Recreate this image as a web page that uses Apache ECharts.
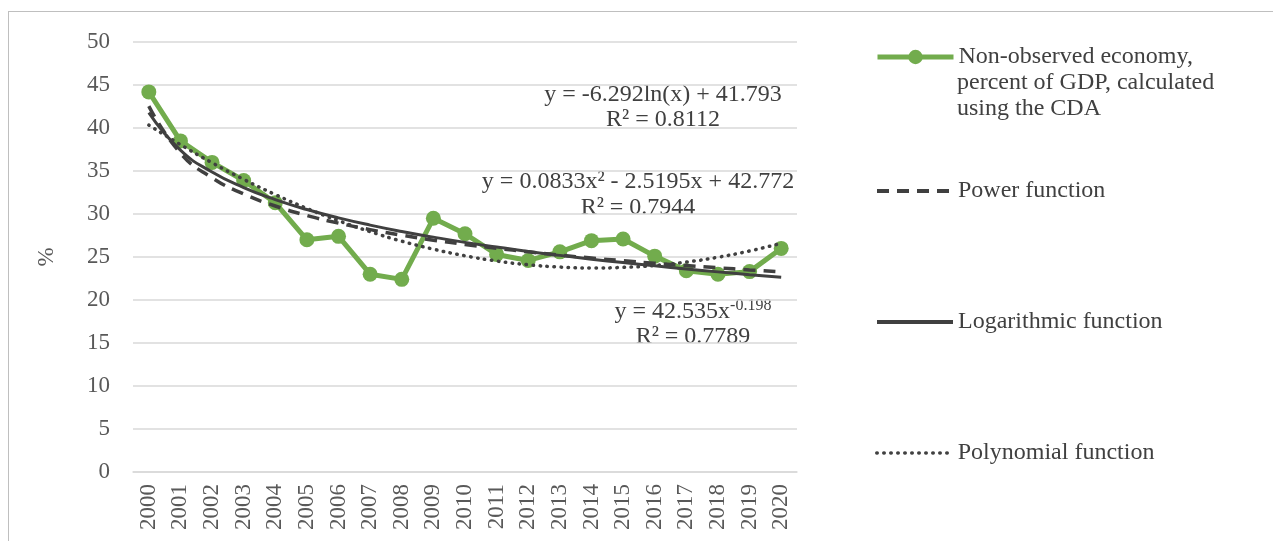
<!DOCTYPE html>
<html>
<head>
<meta charset="utf-8">
<script src="https://cdn.jsdelivr.net/npm/echarts@6/dist/echarts.min.js"></script>
<style>
html,body{margin:0;padding:0;background:#fff;}
#frame{position:absolute;left:8px;top:11px;width:1265px;height:530px;border-top:1px solid #bfbfbf;border-left:1px solid #bfbfbf;}
#chart{position:absolute;left:0;top:0;width:1273px;height:541px;}
</style>
</head>
<body>
<div id="frame"></div>
<div id="chart"></div>
<script>
const years = ['2000','2001','2002','2003','2004','2005','2006','2007','2008','2009','2010','2011','2012','2013','2014','2015','2016','2017','2018','2019','2020'];
const neValues = [44.2,38.5,36.0,33.9,31.3,27.0,27.4,23.0,22.4,29.5,27.7,25.3,24.6,25.6,26.9,27.1,25.1,23.4,23.0,23.3,26.0];
const powerTrend = [42.54,37.08,34.22,32.33,30.93,29.83,28.94,28.18,27.53,26.96,26.46,26.01,25.60,25.22,24.88,24.57,24.27,24.00,23.75,23.50,23.28];
const logTrend = [41.79,37.43,34.88,33.07,31.67,30.52,29.55,28.71,27.97,27.31,26.70,26.16,25.65,25.19,24.75,24.35,23.97,23.61,23.27,22.94,22.64];
const polyTrend = [40.34,38.07,35.96,34.03,32.26,30.65,29.22,27.95,26.84,25.91,25.14,24.53,24.10,23.83,23.72,23.79,24.01,24.41,24.97,25.70,26.60];
const yTicks = [0,5,10,15,20,25,30,35,40,45,50];
const neLegendLines = ['Non-observed economy,', 'percent of GDP, calculated', 'using the CDA'];

const serif = '"Liberation Serif","Times New Roman",serif';
const green = '#72ac4d';
const dark = '#404040';
const nameNE = neLegendLines.join(' ');

const chart = echarts.init(document.getElementById('chart'));
function legendAt(name, top, lineW, hideSymbol) {
  const lg = {
    data: [name], left: 875, top: top, orient: 'vertical', padding: 0,
    itemWidth: 76, itemHeight: 18, itemGap: 0,
    selectedMode: false,
    lineStyle: {width: lineW},
    textStyle: {fontFamily: serif, fontSize: 24, color: dark, lineHeight: 26}
  };
  if (hideSymbol) lg.itemStyle = {opacity: 0};
  if (name === nameNE) lg.formatter = function () { return neLegendLines[0]; };
  return lg;
}
const eqFont = '24px ' + serif;
chart.setOption({
  animation: false,
  grid: {left: 133, right: 476, top: 42, bottom: 69},
  xAxis: {
    type: 'category', data: years, boundaryGap: true,
    axisLine: {show: true, lineStyle: {color: '#d9d9d9', width: 1.5}},
    axisTick: {show: false},
    axisLabel: {rotate: 90, margin: 12, fontFamily: serif, fontSize: 23, color: '#595959', interval: 0}
  },
  yAxis: {
    type: 'value', min: yTicks[0], max: yTicks[yTicks.length-1], interval: 5,
    name: '%', nameLocation: 'middle', nameGap: 75, nameRotate: 90,
    nameTextStyle: {fontFamily: serif, fontSize: 23, color: '#595959'},
    axisLine: {show: false}, axisTick: {show: false},
    axisLabel: {margin: 23, fontFamily: serif, fontSize: 23, color: '#595959'},
    splitLine: {lineStyle: {color: '#d9d9d9', width: 1.5}}
  },
  legend: [
    legendAt(nameNE, 44, 5, false),
    legendAt('Power function', 178, 4, true),
    legendAt('Logarithmic function', 309, 4, true),
    legendAt('Polynomial function', 440, 3.5, true)
  ],
  series: [
    {name: 'Power function', type: 'line', data: powerTrend, smooth: true, symbol: 'none', z: 3,
     lineStyle: {color: dark, width: 3.5, type: [12, 8]}, itemStyle: {color: dark}},
    {name: 'Logarithmic function', type: 'line', data: logTrend, smooth: true, symbol: 'none', z: 3,
     lineStyle: {color: dark, width: 3, type: 'solid'}, itemStyle: {color: dark}},
    {name: 'Polynomial function', type: 'line', data: polyTrend, smooth: true, symbol: 'none', z: 3,
     lineStyle: {color: dark, width: 3.5, type: [0.5, 6.5], cap: 'round'}, itemStyle: {color: dark}},
    {name: nameNE, type: 'line', data: neValues, symbol: 'circle', symbolSize: 15, z: 2,
     lineStyle: {color: green, width: 5}, itemStyle: {color: green}}
  ],
  graphic: [
    {type: 'text', x: 957, y: 83, style: {text: neLegendLines[1], font: eqFont, fill: dark, align: 'left', verticalAlign: 'middle'}},
    {type: 'text', x: 957, y: 109, style: {text: neLegendLines[2], font: eqFont, fill: dark, align: 'left', verticalAlign: 'middle'}},
    {type: 'text', x: 663, y: 95, style: {text: 'y = -6.292ln(x) + 41.793', font: eqFont, fill: dark, align: 'center', verticalAlign: 'middle'}},
    {type: 'text', x: 663, y: 120, style: {text: 'R² = 0.8112', font: eqFont, fill: dark, align: 'center', verticalAlign: 'middle'}},
    {type: 'text', x: 638, y: 182, style: {text: 'y = 0.0833x² - 2.5195x + 42.772', font: eqFont, fill: dark, align: 'center', verticalAlign: 'middle'}},
    {type: 'text', x: 638, y: 208, style: {text: 'R² = 0.7944', font: eqFont, fill: dark, align: 'center', verticalAlign: 'middle'}},
    {type: 'text', x: 693, y: 312, style: {text: '{b|y = 42.535x}{s|-0.198}', align: 'center', verticalAlign: 'middle',
      rich: {b: {font: eqFont, fill: dark, color: dark}, s: {font: '16px ' + serif, color: dark, fill: dark, padding: [0,0,12,0]}}}},
    {type: 'text', x: 693, y: 337, style: {text: 'R² = 0.7789', font: eqFont, fill: dark, align: 'center', verticalAlign: 'middle'}}
  ]
});
</script>
</body>
</html>
